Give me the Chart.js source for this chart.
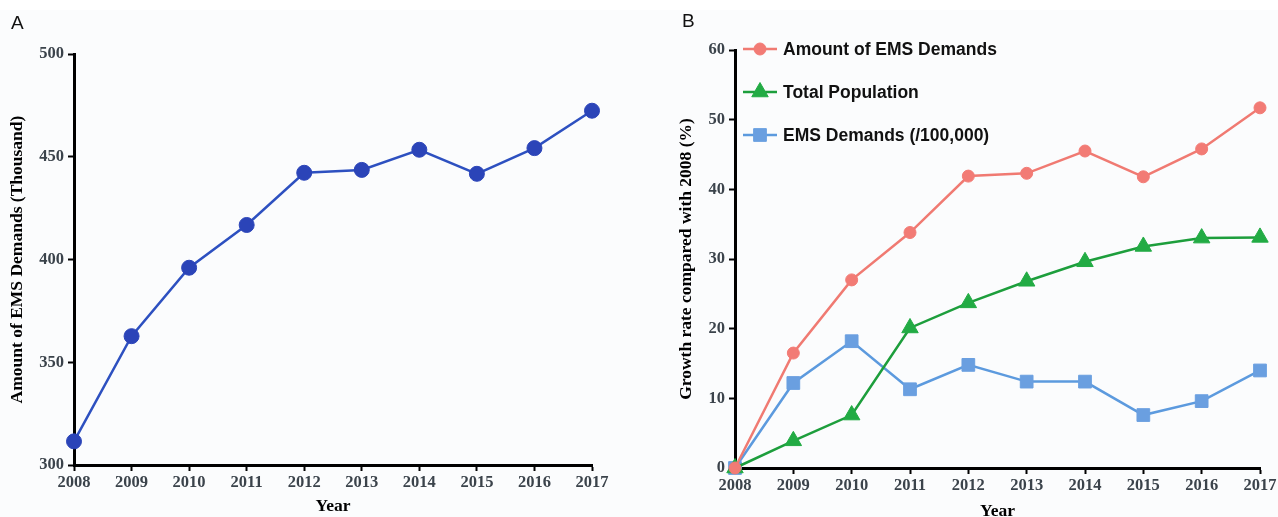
<!DOCTYPE html>
<html>
<head>
<meta charset="utf-8">
<script src="https://cdn.jsdelivr.net/npm/chart.js@4.4.1/dist/chart.umd.min.js"></script>
<style>
  html, body { margin: 0; padding: 0; background: #ffffff; overflow: hidden; }
  body { width: 1278px; height: 517px; position: relative; }
  .sheet { position: absolute; left: 0; top: 10px; width: 1278px; height: 507px; background: #fbfcfd; }
  .panel { position: absolute; top: 0; }
  .tag { position: absolute; font: 19px "Liberation Sans", Arial, sans-serif; color: #111; }
</style>
</head>
<body>
<div class="sheet"></div>
<div class="panel" id="boxA" style="left:0;width:640px;height:517px;"><canvas id="chartA"></canvas></div>
<div class="panel" id="boxB" style="left:640px;width:690px;height:530px;"><canvas id="chartB"></canvas></div>
<div class="tag" style="left:11px;top:12px;">A</div>
<div class="tag" style="left:682px;top:10px;">B</div>
<script>
// Years on the horizontal axis of both panels
const years = ['2008', '2009', '2010', '2011', '2012', '2013', '2014', '2015', '2016', '2017'];

// Panel A: EMS demands per year (thousand)
const emsDemands = [311.5, 362.7, 396.0, 416.8, 442.2, 443.6, 453.4, 441.7, 454.2, 472.4];

// Panel B: growth rate relative to 2008 (%)
const growthEmsDemands = [0, 16.5, 27.0, 33.8, 41.9, 42.3, 45.5, 41.8, 45.8, 51.7];
const growthPopulation = [0, 3.9, 7.6, 20.1, 23.7, 26.8, 29.6, 31.8, 33.0, 33.1];
const growthPer100k = [0, 12.2, 18.2, 11.3, 14.8, 12.4, 12.4, 7.6, 9.6, 14.0];

const seriesNames = ['Amount of EMS Demands', 'Total Population', 'EMS Demands (/100,000)'];

Chart.defaults.animation = false;
Chart.defaults.responsive = false;
Chart.defaults.maintainAspectRatio = false;

const tickFont = { family: '"Liberation Serif", "Times New Roman", serif', weight: 'bold', size: 16.5 };
const titleFont = { family: '"Liberation Serif", "Times New Roman", serif', weight: 'bold', size: 17.5 };
const tickColor = '#3b434b';

function axisStyle() {
  return {
    border: { display: true, color: '#000', width: 3 },
    grid: { display: true, drawOnChartArea: false, drawTicks: true, tickLength: 6, tickWidth: 2, tickColor: '#000', color: '#000' }
  };
}

function fixedSize(prop, value) {
  return function (scale) { scale[prop] = value; };
}

// Legend drawn inside the plot: a short line with the series marker, then the name
const insideLegend = {
  id: 'insideLegend',
  afterDatasetsDraw(chart, args, opts) {
    if (!opts.enabled) return;
    const ctx = chart.ctx;
    ctx.save();
    ctx.font = 'bold 17.5px "Liberation Sans", Arial, sans-serif';
    ctx.textBaseline = 'middle';
    ctx.textAlign = 'left';
    chart.data.datasets.forEach((ds, i) => {
      const y = opts.top + i * opts.gap;
      ctx.strokeStyle = ds.borderColor;
      ctx.lineWidth = ds.borderWidth;
      ctx.beginPath();
      ctx.moveTo(opts.left, y);
      ctx.lineTo(opts.left + opts.lineLength, y);
      ctx.stroke();
      ctx.fillStyle = ds.pointBackgroundColor;
      ctx.strokeStyle = ds.pointBorderColor;
      ctx.lineWidth = ds.pointBorderWidth;
      Chart.helpers.drawPoint(ctx, {
        pointStyle: ds.pointStyle, radius: ds.pointRadius, rotation: 0, borderWidth: ds.pointBorderWidth
      }, opts.left + opts.lineLength / 2, y);
      ctx.fillStyle = '#111';
      ctx.fillText(ds.label, opts.left + opts.lineLength + 6, y + 1);
    });
    ctx.restore();
  }
};

// Panel A
const canvasA = document.getElementById('chartA');
canvasA.width = 640; canvasA.height = 517;
const axA = axisStyle();
new Chart(canvasA, {
  type: 'line',
  data: {
    labels: years,
    datasets: [{
      label: 'Amount of EMS Demands',
      data: emsDemands,
      borderColor: '#2d50c0',
      borderWidth: 2.5,
      pointStyle: 'circle',
      pointRadius: 7.5,
      pointBackgroundColor: '#2b44b8',
      pointBorderColor: '#2b44b8',
      pointBorderWidth: 1,
      tension: 0,
      clip: false
    }]
  },
  options: {
    layout: { padding: { left: 0, top: 54, right: 48, bottom: 0 } },
    plugins: { legend: { display: false }, tooltip: { enabled: false } },
    scales: {
      x: {
        offset: false,
        border: axA.border,
        grid: axA.grid,
        ticks: { font: tickFont, color: tickColor, padding: 2, maxRotation: 0, autoSkip: false },
        title: { display: true, text: 'Year', font: titleFont, color: '#000', padding: { top: 0, bottom: 0 } },
        afterFit: fixedSize('height', 52)
      },
      y: {
        min: 300, max: 500,
        border: axA.border,
        grid: axA.grid,
        ticks: { stepSize: 50, font: tickFont, color: tickColor, padding: 4 },
        title: { display: true, text: 'Amount of EMS Demands (Thousand)', font: titleFont, color: '#000', padding: { top: 7, bottom: 0 } },
        afterFit: fixedSize('width', 74)
      }
    }
  }
});

// Panel B
const canvasB = document.getElementById('chartB');
canvasB.width = 690; canvasB.height = 530;
const axB = axisStyle();
new Chart(canvasB, {
  type: 'line',
  data: {
    labels: years,
    datasets: [
      {
        label: seriesNames[0],
        data: growthEmsDemands,
        borderColor: '#f07a72',
        borderWidth: 2.5,
        pointStyle: 'circle',
        pointRadius: 6,
        pointBackgroundColor: '#f27b75',
        pointBorderColor: '#f27b75',
        pointBorderWidth: 1,
        tension: 0,
        clip: false
      },
      {
        label: seriesNames[1],
        data: growthPopulation,
        borderColor: '#1d9e3c',
        borderWidth: 2.5,
        pointStyle: 'triangle',
        pointRadius: 9.5,
        pointBackgroundColor: '#22ab44',
        pointBorderColor: '#22ab44',
        pointBorderWidth: 1,
        tension: 0,
        clip: false
      },
      {
        label: seriesNames[2],
        data: growthPer100k,
        borderColor: '#5c9ade',
        borderWidth: 2.5,
        pointStyle: 'rect',
        pointRadius: 9,
        pointBackgroundColor: '#6a9fe0',
        pointBorderColor: '#6a9fe0',
        pointBorderWidth: 1,
        tension: 0,
        clip: false
      }
    ]
  },
  options: {
    layout: { padding: { left: 0, top: 50, right: 70, bottom: 0 } },
    plugins: {
      legend: { display: false },
      tooltip: { enabled: false },
      insideLegend: { enabled: true, left: 103, top: 49, gap: 43, lineLength: 34 }
    },
    scales: {
      x: {
        offset: false,
        border: axB.border,
        grid: axB.grid,
        ticks: { font: tickFont, color: tickColor, padding: 2, maxRotation: 0, autoSkip: false },
        title: { display: true, text: 'Year', font: titleFont, color: '#000', padding: { top: 0, bottom: 8 } },
        afterFit: fixedSize('height', 62)
      },
      y: {
        min: 0, max: 60,
        border: axB.border,
        grid: axB.grid,
        ticks: { stepSize: 10, font: tickFont, color: tickColor, padding: 4 },
        title: { display: true, text: 'Growth rate compared with 2008 (%)', font: titleFont, color: '#000', padding: { top: 36, bottom: 0 } },
        afterFit: fixedSize('width', 95)
      }
    }
  },
  plugins: [insideLegend]
});
</script>
</body>
</html>
